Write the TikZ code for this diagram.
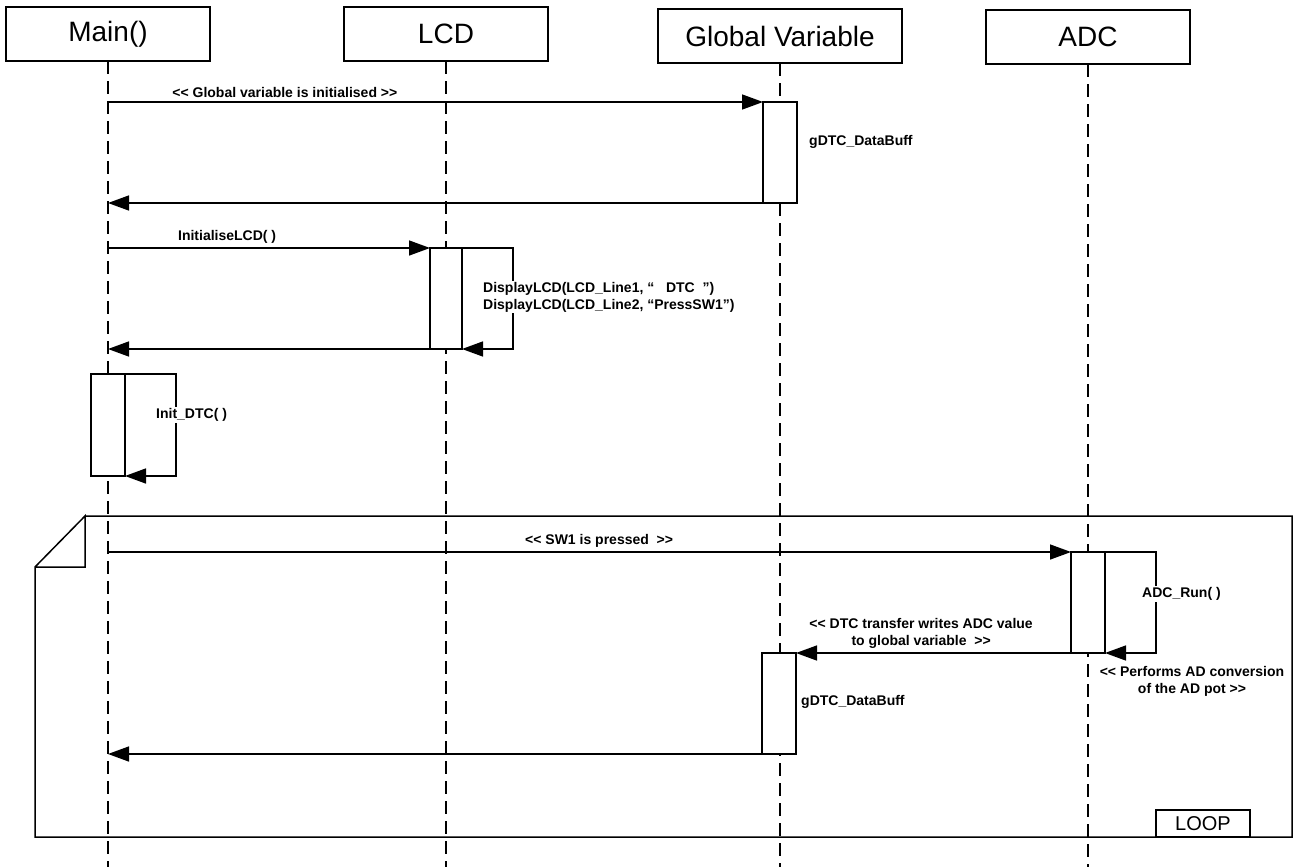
\documentclass[tikz,border=0pt]{standalone}
\usepackage{fontspec}
\setmainfont{Liberation Sans}
\usetikzlibrary{arrows.meta,positioning}

\newcommand{\ltlt}{<\kern0pt<}
\newcommand{\gtgt}{>\kern0pt>}

\begin{document}
\begin{tikzpicture}[
    x=1pt, y=-1pt,
    actor/.style={draw, fill=white, line width=1.5pt, minimum width=204pt,
        minimum height=54pt, inner sep=0pt, outer sep=0pt, font=\fontsize{28}{32}\selectfont},
    act/.style={draw, fill=white, line width=1.5pt, minimum width=34pt,
        minimum height=101pt, inner sep=0pt, outer sep=0pt},
    life/.style={line width=1.4pt, dash pattern=on 13pt off 7pt},
    msg/.style={line width=1.5pt, -{Triangle[length=21pt,width=15pt]}},
    lbl/.style={font=\fontsize{14}{17}\selectfont\bfseries, inner sep=1pt, align=center},
    note/.style={lbl, fill=white, align=left}
]
\useasboundingbox (0,0) rectangle (1295,867);

% Actors
\node[actor] (main) at (108,34) {Main()};
\node[actor] (lcd) at (446,34) {LCD};
\node[actor, minimum width=244pt] (gv) at (780,36) {Global Variable};
\node[actor] (adc) at (1088,37) {ADC};

% Lifelines
\coordinate (mainEnd) at (108,867);
\coordinate (lcdEnd) at (446,867);
\coordinate (gvEnd) at (780,867);
\coordinate (adcEnd) at (1088,867);
\draw[life] (main) -- (mainEnd);
\draw[life] (lcd) -- (lcdEnd);
\draw[life] (gv) -- (gvEnd);
\draw[life] (adc) -- (adcEnd);

% Loop frame
\draw[line width=1.5pt] (85,516) -- (1292,516) -- (1292,837) -- (35,837)
    -- (35,567) -- (85,516) -- (85,567) -- (35,567);
\node[draw, line width=1.5pt, minimum width=94pt, minimum height=27pt,
    inner sep=0pt, font=\fontsize{20}{22}\selectfont] (loop) at (1203,823.5) {LOOP};

% Activations
\node[act] (gv1) at (780,152.5) {};
\node[act, minimum width=32pt] (lcd1) at (446,298.5) {};
\node[act, minimum height=102pt] (main1) at (108,425) {};
\node[act] (adc1) at (1088,602.5) {};
\node[act] (gv2) at (779,703.5) {};

% Global variable
\draw[msg] (main |- gv1.north west) -- (gv1.north west)
    node[lbl, pos=0.27, above=3pt] {\ltlt{} Global variable is initialised \gtgt};
\node[lbl, anchor=west] (buf1) at (808,142) {gDTC\_DataBuff};
\draw[msg] (gv1.south east) -- (main |- gv1.south east);

% LCD
\draw[msg] (main |- lcd1.north west) -- (lcd1.north west)
    node[lbl, pos=0.37, above=3pt] {InitialiseLCD( )};
\coordinate (lcdLoop) at (513,248);
\draw[msg] (lcd1.north east) -- (lcdLoop) |- (lcd1.south east);
\node[note, anchor=west] (disp) at (482,297) {DisplayLCD(LCD\_Line1, “\ \ \ DTC\ \ ”)\\DisplayLCD(LCD\_Line2, “PressSW1”)};
\draw[msg] (lcd1.south west) -- (main |- lcd1.south west);

% DTC init
\coordinate (mainLoop) at (176,374);
\draw[msg] (main1.north east) -- (mainLoop) |- (main1.south east);
\node[note, anchor=west] (init) at (155,415) {Init\_DTC( )};

% Loop body
\draw[msg] (main |- adc1.north west) -- (adc1.north west)
    node[lbl, pos=0.51, above=3pt] {\ltlt{} SW1 is pressed\ \ \gtgt};
\coordinate (adcLoop) at (1156,552);
\draw[msg] (adc1.north east) -- (adcLoop) |- (adc1.south east);
\node[note, anchor=west] (run) at (1141,594) {ADC\_Run( )};
\node[lbl] (conv) at (1192,681.5) {\ltlt{} Performs AD conversion\\of the AD pot \gtgt};
\draw[msg] (adc1.south west) -- (gv2.north east)
    node[lbl, pos=0.545, above=3pt] {\ltlt{} DTC transfer writes ADC value\\to global variable\ \ \gtgt};
\node[lbl, anchor=west] (buf2) at (800,702) {gDTC\_DataBuff};
\draw[msg] (gv2.south east) -- (main |- gv2.south east);

\end{tikzpicture}
\end{document}
